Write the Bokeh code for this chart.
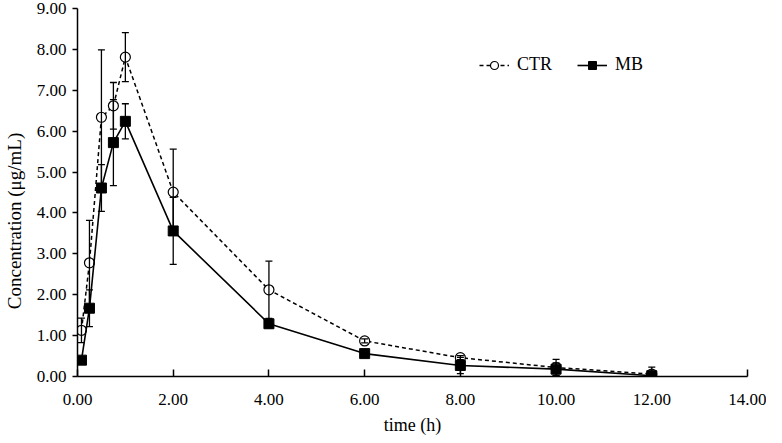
from bokeh.plotting import figure
from bokeh.models import ColumnDataSource, Whisker, TeeHead, Range1d, NumeralTickFormatter, FixedTicker
from bokeh.embed import file_html
from bokeh.resources import INLINE

# ---- data ----
time_h = [0.083, 0.25, 0.5, 0.75, 1.0, 2.0, 4.0, 6.0, 8.0, 10.0, 12.0]
ctr_mean = [1.13, 2.78, 6.34, 6.62, 7.81, 4.51, 2.12, 0.87, 0.46, 0.22, 0.06]
ctr_sd = [0.30, 1.04, 1.65, 0.57, 0.60, 1.05, 0.70, 0.05, 0.05, 0.20, 0.17]
mb_mean = [0.40, 1.67, 4.61, 5.72, 6.24, 3.56, 1.29, 0.56, 0.27, 0.18, 0.02]
mb_sd = [0.05, 0.45, 0.57, 1.05, 0.43, 0.82, 0.10, 0.05, 0.20, 0.15, 0.05]
x_ticks = [0, 2, 4, 6, 8, 10, 12, 14]
y_ticks = [0, 1, 2, 3, 4, 5, 6, 7, 8, 9]

FONT = "Liberation Serif"

ctr_src = ColumnDataSource(dict(
    t=time_h, y=ctr_mean,
    upper=[m + s for m, s in zip(ctr_mean, ctr_sd)],
    lower=[m - s for m, s in zip(ctr_mean, ctr_sd)],
))
mb_src = ColumnDataSource(dict(
    t=time_h, y=mb_mean,
    upper=[m + s for m, s in zip(mb_mean, mb_sd)],
    lower=[m - s for m, s in zip(mb_mean, mb_sd)],
))

p = figure(width=766, height=442, output_backend="svg", toolbar_location=None,
           x_range=Range1d(0, 14), y_range=Range1d(0, 9),
           min_border_left=71, min_border_right=19, min_border_top=8, min_border_bottom=66)
p.outline_line_color = None
p.xgrid.visible = False
p.ygrid.visible = False
p.background_fill_color = "white"

for src in (ctr_src, mb_src):
    w = Whisker(base="t", upper="upper", lower="lower", source=src,
                line_color="black", line_width=1.3,
                upper_head=TeeHead(size=7, line_color="black", line_width=1.3),
                lower_head=TeeHead(size=7, line_color="black", line_width=1.3),
                level="glyph")
    p.add_layout(w)

p.line("t", "y", source=ctr_src, line_color="black", line_width=1.5,
       line_dash="4 3", legend_label="CTR")
p.scatter("t", "y", source=ctr_src, marker="circle", size=10, fill_color="white",
          line_color="black", line_width=1.2, legend_label="CTR")
p.line("t", "y", source=mb_src, line_color="black", line_width=1.6, legend_label="MB")
p.scatter("t", "y", source=mb_src, marker="square", size=10, fill_color="black",
          line_color="black", legend_label="MB")

# axes
p.xaxis.ticker = FixedTicker(ticks=x_ticks)
p.yaxis.ticker = FixedTicker(ticks=y_ticks)
p.xaxis.formatter = NumeralTickFormatter(format="0.00")
p.yaxis.formatter = NumeralTickFormatter(format="0.00")
p.xaxis.axis_label = "time (h)"
p.yaxis.axis_label = "Concentration (μg/mL)" + "\u00a0" * 12
for ax in (p.xaxis[0], p.yaxis[0]):
    ax.axis_line_color = "black"
    ax.axis_line_width = 1.5
    ax.major_tick_line_color = "black"
    ax.major_tick_line_width = 1.5
    ax.minor_tick_line_color = None
    ax.major_label_text_font = FONT
    ax.major_label_text_font_size = "17px"
    ax.major_label_text_color = "black"
    ax.axis_label_text_font = FONT
    ax.axis_label_text_font_size = "19px"
    ax.axis_label_text_font_style = "normal"
    ax.axis_label_text_color = "black"
p.xaxis.axis_label_text_font_size = "18px"
p.xaxis.major_tick_in = 7
p.xaxis.major_tick_out = 0
p.xaxis.major_label_standoff = 17
p.xaxis.axis_label_standoff = 7
p.yaxis.major_tick_in = 0
p.yaxis.major_tick_out = 5
p.yaxis.major_label_standoff = 6
p.yaxis.axis_label_standoff = 9

# legend
lg = p.legend[0]
lg.orientation = "horizontal"
lg.location = (402, 301)
lg.border_line_color = None
lg.background_fill_alpha = 0
lg.padding = 0
lg.margin = 0
lg.spacing = 25
lg.glyph_width = 30
lg.glyph_height = 20
lg.label_standoff = 8
lg.label_text_font = FONT
lg.label_text_font_size = "18px"
lg.label_text_color = "black"

open("out.html", "w").write(file_html(p, INLINE))
